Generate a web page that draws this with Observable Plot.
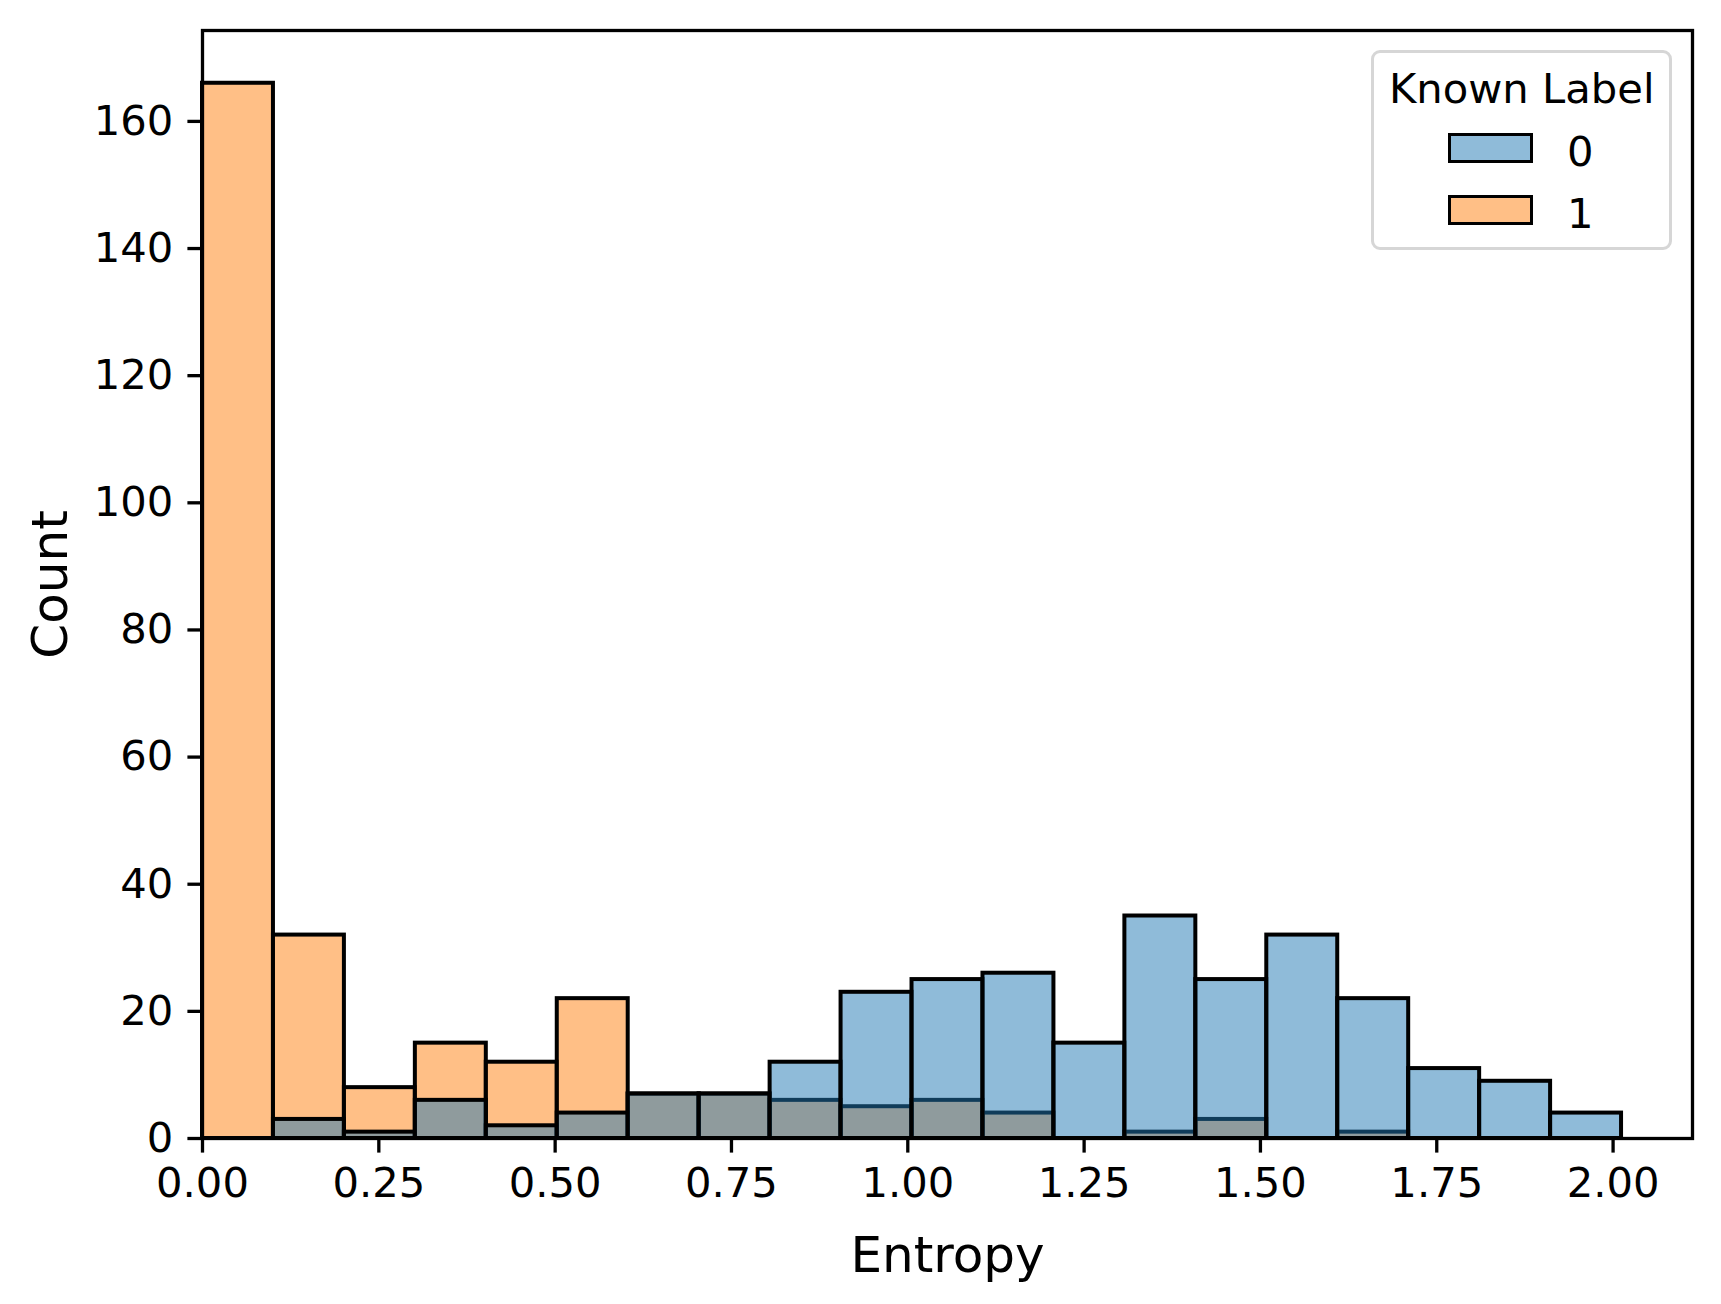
<!DOCTYPE html>
<html>
<head>
<meta charset="utf-8">
<script src="https://cdn.jsdelivr.net/npm/d3@7"></script>
<script src="https://cdn.jsdelivr.net/npm/@observablehq/plot@0.6"></script>
<style>
  html, body { margin: 0; padding: 0; background: #fff; }
  #wrap { position: relative; width: 1721px; height: 1304px; font-family: "DejaVu Sans", sans-serif; }
  #legend { position: absolute; left: 1371px; top: 50px; width: 295px; height: 194px;
    border: 3px solid #d6d6d6; border-radius: 9px; background: rgba(255,255,255,0.8); }
  #legend .t { position: absolute; font-size: 41.7px; line-height: 1; white-space: nowrap; color: #000; }
  #legend .p { position: absolute; width: 79px; height: 24px; border: 3.5px solid #000; }
</style>
</head>
<body>
<div id="wrap"></div>
<script>
// Bin edges (Entropy) and counts per bin
const binEdges = [0, 0.1006, 0.2012, 0.3018, 0.4024, 0.5030, 0.6036, 0.7042, 0.8048, 0.9054,
  1.0060, 1.1066, 1.2072, 1.3078, 1.4084, 1.5090, 1.6096, 1.7102, 1.8108, 1.9114, 2.0120];
const counts0 = [0, 3, 1, 6, 2, 4, 7, 7, 12, 23, 25, 26, 15, 35, 25, 32, 22, 11, 9, 4];
const counts1 = [166, 32, 8, 15, 12, 22, 7, 7, 6, 5, 6, 4, 0, 1, 3, 0, 1, 0, 0, 0];
const labels = ["0", "1"];
const colors = ["#1f77b4", "#ff7f0e"];
const xTicks = [0, 0.25, 0.5, 0.75, 1.0, 1.25, 1.5, 1.75, 2.0];
const yTicks = [0, 20, 40, 60, 80, 100, 120, 140, 160];
const xDomain = [0, 2.1126];
const yDomain = [0, 174.3];

function toBins(counts, label) {
  return counts.map((c, i) => ({x1: binEdges[i], x2: binEdges[i + 1], count: c, label}))
               .filter(d => d.count > 0);
}
const bins0 = toBins(counts0, labels[0]);
const bins1 = toBins(counts1, labels[1]);

const fs = 41.7;
const chart = Plot.plot({
  width: 1721,
  height: 1304,
  marginLeft: 202,
  marginRight: 29,
  marginTop: 30,
  marginBottom: 166,
  style: {fontFamily: "DejaVu Sans, sans-serif", fontSize: fs + "px", color: "#000", background: "#fff"},
  x: {domain: xDomain},
  y: {domain: yDomain},
  marks: [
    Plot.rectY(bins1, {x1: "x1", x2: "x2", y: "count", fill: colors[1], fillOpacity: 0.5, stroke: "#000", strokeWidth: 4}),
    Plot.rectY(bins0, {x1: "x1", x2: "x2", y: "count", fill: colors[0], fillOpacity: 0.5, stroke: "#000", strokeWidth: 4}),
    Plot.frame({stroke: "#000", strokeWidth: 3.3}),
    Plot.axisX({ticks: xTicks, tickFormat: d3.format(".2f"), tickSize: 14.6, tickPadding: 14.6,
      strokeWidth: 3.3, fontSize: fs, label: null}),
    Plot.axisY({ticks: yTicks, tickFormat: d3.format("d"), tickSize: 14.6, tickPadding: 14.6,
      strokeWidth: 3.3, fontSize: fs, label: null}),
    Plot.text(["Entropy"], {frameAnchor: "bottom", text: d => d, textAnchor: "middle", lineAnchor: "top", dy: 98, fontSize: 50}),
    Plot.text(["Count"], {frameAnchor: "left", text: d => d, rotate: -90, textAnchor: "middle", lineAnchor: "middle", dx: -152, fontSize: 50})
  ]
});
const wrap = document.getElementById("wrap");
wrap.appendChild(chart);

// Legend overlay
const lg = document.createElement("div");
lg.id = "legend";
const title = document.createElement("div");
title.className = "t";
title.textContent = "Known Label";
title.style.left = "15px"; title.style.top = "15px";
lg.appendChild(title);
labels.forEach((lab, i) => {
  const p = document.createElement("div");
  p.className = "p";
  p.style.left = "74px";
  p.style.top = (80 + i * 62) + "px";
  const c = d3.color(colors[i]); c.opacity = 0.5;
  p.style.background = c.formatRgb();
  lg.appendChild(p);
  const t = document.createElement("div");
  t.className = "t";
  t.textContent = lab;
  t.style.left = "193px";
  t.style.top = (78 + i * 62) + "px";
  lg.appendChild(t);
});
wrap.appendChild(lg);
</script>
</body>
</html>
